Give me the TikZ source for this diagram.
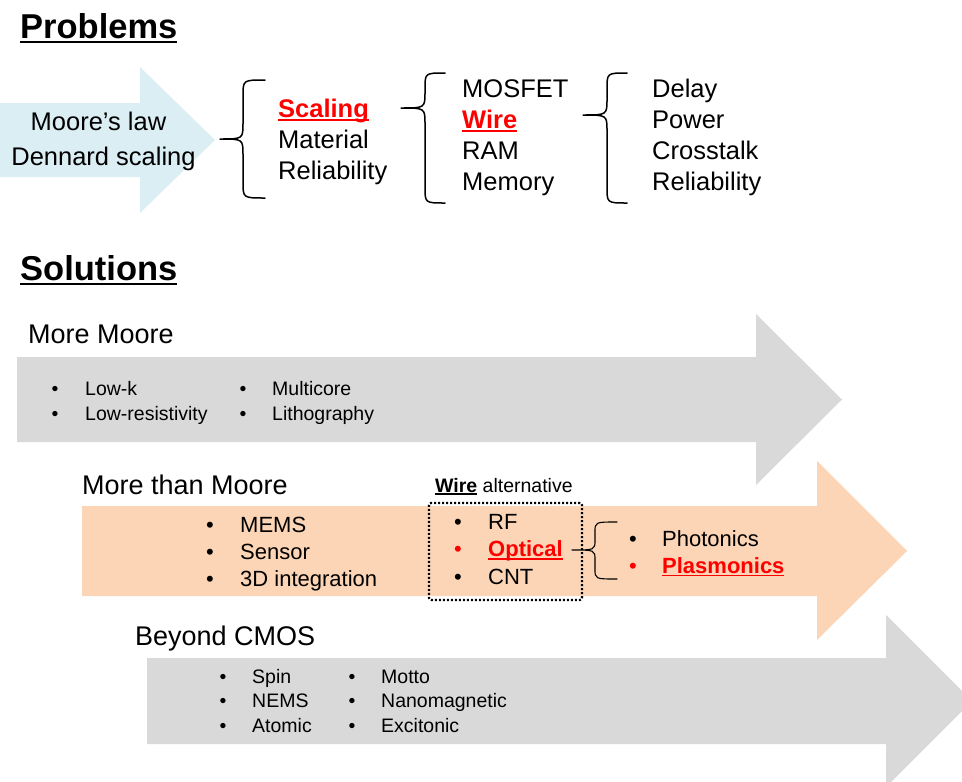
\documentclass[tikz,border=0pt]{standalone}
\usepackage{fontspec}
\setmainfont{Liberation Sans}
\definecolor{skyfill}{HTML}{DBEEF4}
\definecolor{greyfill}{HTML}{D9D9D9}
\definecolor{peachfill}{HTML}{FBD5B5}
\definecolor{hot}{HTML}{FF0000}
% text with a rule drawn under it at a fixed distance below the baseline
\newcommand\ulbar[1]{\setbox0\hbox{#1}\rlap{\rule[-0.15em]{\wd0}{0.075em}}\box0\relax}
\tikzset{
  txt/.style={inner sep=0pt, anchor=base west},
  mid/.style={inner sep=0pt, anchor=base},
  head/.style={font=\fontsize{34.5}{40}\selectfont\bfseries},
  row/.style={font=\fontsize{25.5}{30}\selectfont},
  title/.style={font=\fontsize{27}{32}\selectfont},
  item/.style={font=\fontsize{19.5}{23}\selectfont},
  itemL/.style={font=\fontsize{22}{26}\selectfont},
  hotbold/.style={text=hot},
  bracket/.style={line width=1.5pt, line join=round, line cap=round},
}
% left curly bracket: #1 end x, #2 spine x, #3 tip x, #4 top y, #5 bottom y, #6 tip y, #7 corner radius
\newcommand\curlybracket[7]{%
  \draw[bracket] (#1,#4) .. controls (#2,#4) .. (#2,#4+#7) -- (#2,#6-#7)
    .. controls (#2,#6) .. (#3,#6) .. controls (#2,#6) .. (#2,#6+#7)
    -- (#2,#5-#7) .. controls (#2,#5) .. (#1,#5);}
\begin{document}
\begin{tikzpicture}[x=1pt,y=-1pt]
\clip (0,0) rectangle (962,782);
\useasboundingbox (0,0) rectangle (962,782);

% ---------- Problems ----------
\node[txt, head] (problems) at (20,38) {\ulbar{Problems}};

\fill[skyfill] (0,103) -- (140,103) -- (140,67) -- (215,140) -- (140,213)
  -- (140,177) -- (0,177) -- cycle;
\node[mid, row] (moore) at (98.5,130) {Moore’s law};
\node[mid, row] (dennard) at (103.5,165) {Dennard scaling};

\curlybracket{265}{243}{220}{80}{198}{139}{16}
\node[txt, row, hotbold] (scaling) at (278,117) {\ulbar{\bfseries Scaling}};
\node[txt, row] (material) at (278,148) {Material};
\node[txt, row] (reliab1) at (278,179) {Reliability};

\curlybracket{445}{425}{401}{73}{203}{108}{16}
\node[txt, row] (mosfet) at (462,97) {MOSFET};
\node[txt, row, hotbold] (wire) at (462,128) {\ulbar{\bfseries Wire}};
\node[txt, row] (ram) at (462,159) {RAM};
\node[txt, row] (memory) at (462,190) {Memory};

\curlybracket{627}{607}{583}{73}{203}{115}{16}
\node[txt, row] (delay) at (652,97) {Delay};
\node[txt, row] (power) at (652,128) {Power};
\node[txt, row] (crosstalk) at (652,159) {Crosstalk};
\node[txt, row] (reliab2) at (652,190) {Reliability};

% ---------- Solutions ----------
\node[txt, head] (solutions) at (20,280) {\ulbar{Solutions}};

% More Moore
\fill[greyfill] (17,357) -- (756,357) -- (756,314) -- (842,399.5) -- (756,485)
  -- (756,442) -- (17,442) -- cycle;
\node[txt, title] (moremoore) at (28,343) {More Moore};
\node[mid, item] (b11) at (55,395) {•};
\node[txt, item] (lowk) at (85,395) {Low-k};
\node[mid, item] (b12) at (55,420) {•};
\node[txt, item] (lowres) at (85,420) {Low-resistivity};
\node[mid, item] (b13) at (243,395) {•};
\node[txt, item] (multicore) at (272,395) {Multicore};
\node[mid, item] (b14) at (243,420) {•};
\node[txt, item] (litho) at (272,420) {Lithography};

% More than Moore
\fill[peachfill] (82,506) -- (817,506) -- (817,461) -- (907,551) -- (817,640)
  -- (817,596) -- (82,596) -- cycle;
\node[txt, title] (morethan) at (82,494) {More than Moore};
\node[mid, itemL] (b21) at (210,532) {•};
\node[txt, itemL] (mems) at (240,532) {MEMS};
\node[mid, itemL] (b22) at (210,559) {•};
\node[txt, itemL] (sensor) at (240,559) {Sensor};
\node[mid, itemL] (b23) at (210,586) {•};
\node[txt, itemL] (threed) at (240,586) {3D integration};

\node[txt, item] (wirealt) at (435,492) {\ulbar{\bfseries Wire} alternative};
\node[draw, dash pattern=on 2pt off 2pt, line width=2.2pt, rounded corners=2pt,
  minimum width=153pt, minimum height=97pt, inner sep=0pt] (wirebox) at (505.5,551.5) {};
\node[mid, itemL] (b31) at (458,529) {•};
\node[txt, itemL] (rf) at (488,529) {RF};
\node[mid, itemL, text=hot] (b32) at (458,556.5) {•};
\node[txt, itemL, hotbold] (optical) at (488,556.5) {\ulbar{\bfseries Optical}};
\node[mid, itemL] (b33) at (458,584) {•};
\node[txt, itemL] (cnt) at (488,584) {CNT};

\begin{scope}[bracket/.append style={line width=1.1pt}]
\curlybracket{617}{595}{572}{522}{579}{550}{10}
\end{scope}
\node[mid, itemL] (b41) at (633,546) {•};
\node[txt, itemL] (photonics) at (662,546) {Photonics};
\node[mid, itemL, text=hot] (b42) at (633,573) {•};
\node[txt, itemL, hotbold] (plasmonics) at (662,573) {\ulbar{\bfseries Plasmonics}};

% Beyond CMOS
\fill[greyfill] (147,658) -- (886,658) -- (886,615) -- (972,701) -- (886,787)
  -- (886,744) -- (147,744) -- cycle;
\node[txt, title] (beyond) at (135,645) {Beyond CMOS};
\node[mid, item] (b51) at (223,683) {•};
\node[txt, item] (spin) at (252,683) {Spin};
\node[mid, item] (b52) at (223,707.5) {•};
\node[txt, item] (nems) at (252,707.5) {NEMS};
\node[mid, item] (b53) at (223,732) {•};
\node[txt, item] (atomic) at (252,732) {Atomic};
\node[mid, item] (b54) at (352,683) {•};
\node[txt, item] (motto) at (381,683) {Motto};
\node[mid, item] (b55) at (352,707.5) {•};
\node[txt, item] (nanomag) at (381,707.5) {Nanomagnetic};
\node[mid, item] (b56) at (352,732) {•};
\node[txt, item] (excitonic) at (381,732) {Excitonic};
\end{tikzpicture}
\end{document}
